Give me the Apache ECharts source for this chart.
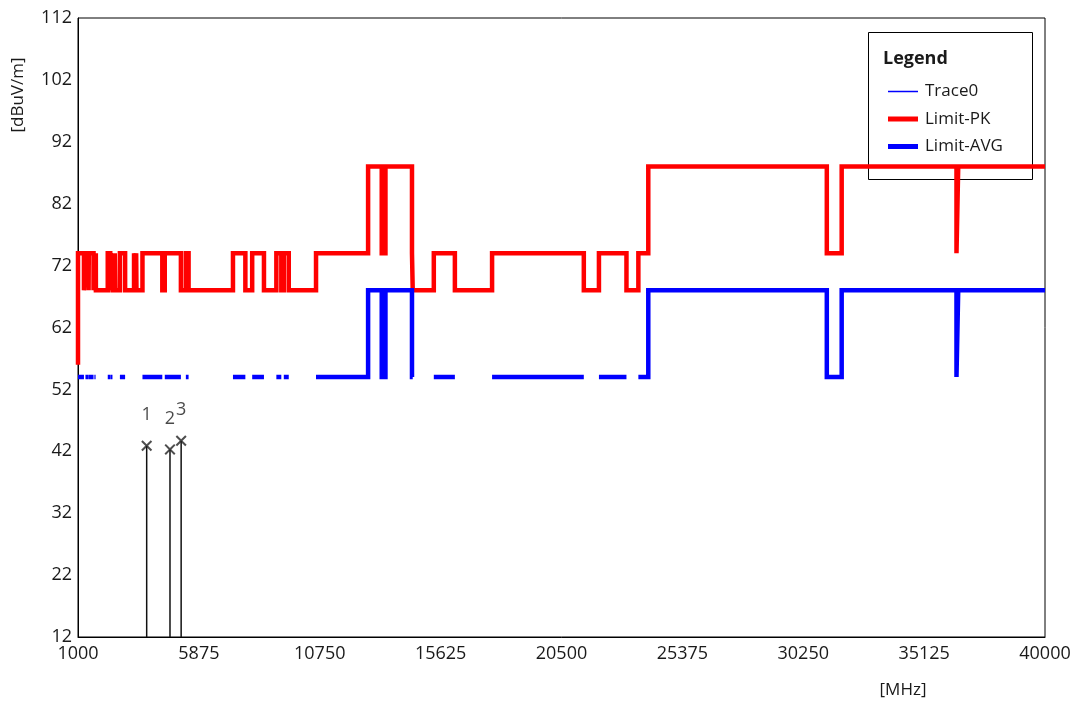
<!DOCTYPE html>
<html>
<head>
<meta charset="utf-8">
<script src="https://cdn.jsdelivr.net/npm/echarts@6/dist/echarts.min.js"></script>
<style>
  html, body { margin: 0; padding: 0; background: #fff; }
  #chart { width: 1082px; height: 707px; }
</style>
</head>
<body>
<div id="chart"></div>
<script>
// band edges [MHz]; each level holds between edges[i] and edges[i+1]
var bandEdges = [1000, 1000, 1240, 1300, 1427, 1435, 1626.5, 1645.5, 1646.5, 1660,
  1710, 1718.8, 1722.2, 2200, 2300, 2310, 2390, 2483.5, 2500, 2690,
  2900, 3260, 3267, 3332, 3339, 3345.8, 3358, 3600, 4400, 4500,
  5150, 5350, 5460, 7250, 7750, 8025, 8500, 9000, 9200, 9300,
  9500, 10600, 12700, 13250, 13400, 14470, 14500, 15350, 16200, 17700,
  21400, 22010, 23120, 23600, 24000, 31200, 31800, 36430, 36500, 40000];

var pkLevels = [56,
  74, 68, 74, 68, 74, 68, 74, 68, 74, 68,
  74, 68, 74, 68, 74, 68, 74, 68, 74, 68,
  74, 68, 74, 68, 74, 68, 74, 68, 74, 68,
  74, 68, 74, 68, 74, 68, 74, 68, 74, 68,
  74,
  88, 74, 88, 74, 68, 74, 68, 74, 68, 74, 68, 74, 88, 74, 88, 74, 88];

var avgLevels = [null,
  54, null, 54, null, 54, null, 54, null, 54, null,
  54, null, 54, null, 54, null, 54, null, 54, null,
  54, null, 54, null, 54, null, 54, null, 54, null,
  54, null, 54, null, 54, null, 54, null, 54, null,
  54,
  68, 54, 68, 54, null, 54, null, 54, null, 54, null, 54, 68, 54, 68, 54, 68];

// markers
var markerFreq = [3770, 4710, 5160];
var markerLevel = [42.9, 42.3, 43.7];
var markerName = ['1', '2', '3'];

var xTicks = [1000, 5875, 10750, 15625, 20500, 25375, 30250, 35125, 40000];
var yTicks = [12, 22, 32, 42, 52, 62, 72, 82, 92, 102, 112];

function steps(edges, levels) {
  var d = [];
  for (var i = 0; i < levels.length; i++) {
    if (levels[i] === null) { d.push([edges[i], '-']); continue; }
    d.push([edges[i], levels[i]], [edges[i + 1], levels[i]]);
  }
  return d;
}

var stemData = [];
var markData = [];
for (var i = 0; i < markerFreq.length; i++) {
  stemData.push([markerFreq[i], yTicks[0]], [markerFreq[i], markerLevel[i]], [markerFreq[i], '-']);
  markData.push({ value: [markerFreq[i], markerLevel[i]], name: markerName[i] });
}

var FONT = '"Open Sans", "DejaVu Sans", sans-serif';
// thin line icon with a 30x5 box (tiny corner dots keep the box size)
var thinIcon = 'path://M0,0L0.01,0L0,0.01Z M0,1.8H30V3.2H0Z M29.99,5L30,5L30,4.99Z';

var chart = echarts.init(document.getElementById('chart'));
chart.setOption({
  animation: false,
  backgroundColor: '#fff',
  grid: {
    left: 78, right: 37, top: 18, bottom: 70,
    show: true, borderColor: '#000', borderWidth: 1
  },
  xAxis: {
    type: 'value',
    min: xTicks[0],
    max: xTicks[xTicks.length - 1],
    interval: xTicks[1] - xTicks[0],
    axisLine: { show: true, onZero: false, lineStyle: { color: '#000' } },
    axisTick: { show: false },
    splitLine: { show: false },
    axisLabel: {
      color: '#1a1a1a', fontSize: 18, fontFamily: FONT, margin: 8,
      showMinLabel: true, showMaxLabel: true,
      formatter: function (v) { return String(v); }
    }
  },
  yAxis: {
    type: 'value',
    min: yTicks[0],
    max: yTicks[yTicks.length - 1],
    interval: yTicks[1] - yTicks[0],
    axisLine: { show: true, lineStyle: { color: '#000' } },
    axisTick: { show: false },
    splitLine: { show: false },
    axisLabel: { color: '#1a1a1a', fontSize: 18, fontFamily: FONT, margin: 6, showMinLabel: true, showMaxLabel: true }
  },
  legend: {
    orient: 'vertical',
    left: 883, top: 78,
    itemWidth: 30, itemHeight: 5, itemGap: 10.5,
    textStyle: { color: '#1a1a1a', fontSize: 17, fontFamily: FONT, padding: [0, 0, 0, 2] },
    data: [
      { name: 'Trace0', icon: thinIcon },
      { name: 'Limit-PK', icon: 'rect' },
      { name: 'Limit-AVG', icon: 'rect' }
    ]
  },
  graphic: [
    { type: 'rect', left: 866, top: 30, z: 0,
      shape: { width: 164, height: 147 },
      style: { fill: 'none', stroke: '#000', lineWidth: 1 } },
    { type: 'text', left: 883, top: 50,
      style: { text: 'Legend', fontSize: 18, fontWeight: 'bold', fontFamily: FONT, fill: '#1a1a1a' } },
    { type: 'text', x: 18, y: 95, rotation: Math.PI / 2,
      style: { text: '[dBuV/m]', fontSize: 17, fontFamily: FONT, fill: '#1a1a1a', align: 'center', verticalAlign: 'middle' } },
    { type: 'text', x: 903, y: 690,
      style: { text: '[MHz]', fontSize: 17, fontFamily: FONT, fill: '#1a1a1a', align: 'center', verticalAlign: 'middle' } }
  ],
  series: [
    {
      name: 'Trace0', type: 'line', data: [], symbol: 'none',
      color: '#0000ff', lineStyle: { width: 1.5, color: '#0000ff' }
    },
    {
      name: 'Limit-PK', type: 'line', data: steps(bandEdges, pkLevels),
      symbol: 'none', connectNulls: false, color: '#ff0000',
      lineStyle: { width: 4.5, color: '#ff0000', join: 'miter' }
    },
    {
      name: 'Limit-AVG', type: 'line', data: steps(bandEdges, avgLevels),
      symbol: 'none', connectNulls: false, color: '#0000ff',
      lineStyle: { width: 4.5, color: '#0000ff', join: 'miter' }
    },
    {
      name: 'stems', type: 'line', data: stemData, symbol: 'none',
      connectNulls: false, lineStyle: { width: 1.5, color: '#111' }, z: 3
    },
    {
      name: 'markers', type: 'scatter', data: markData, z: 4,
      symbol: 'path://M0,1.3L1.3,0L5,3.7L8.7,0L10,1.3L6.3,5L10,8.7L8.7,10L5,6.3L1.3,10L0,8.7L3.7,5Z',
      symbolSize: 11,
      itemStyle: { color: '#222' },
      label: {
        show: true, position: 'top', distance: 16,
        formatter: '{b}', color: '#1a1a1a', fontSize: 18, fontFamily: FONT
      }
    }
  ]
});
</script>
</body>
</html>
